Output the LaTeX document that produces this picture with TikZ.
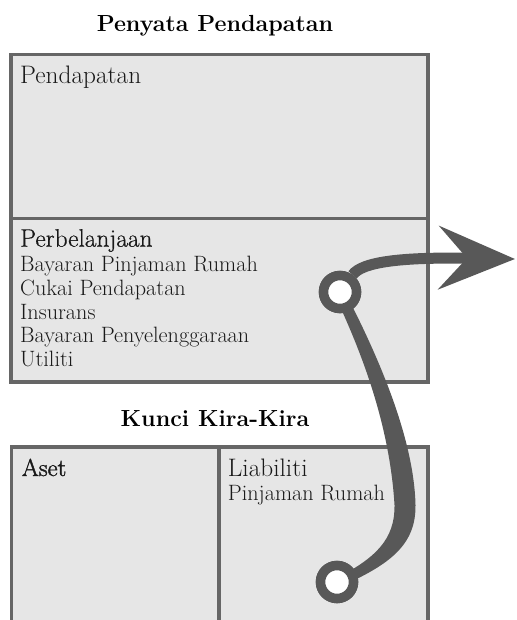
\documentclass[tikz,border=0pt]{standalone}
\usepackage{fontspec}
\newfontfamily\semibold{Latin Modern Roman}[FakeBold=1.6]
\newfontfamily\medium{Latin Modern Roman}[FakeBold=0.6]
\usetikzlibrary{arrows.meta}
\definecolor{myline}{HTML}{666666}
\definecolor{mypaper}{HTML}{E6E6E6}
\definecolor{mystroke}{HTML}{585858}
\colorlet{myink}{black!90}

\begin{document}
\begin{tikzpicture}[x=1pt, y=-1pt,
  title/.style={font=\bfseries\fontsize{23.3}{26}\selectfont, text=black, anchor=base, inner sep=0pt},
  head/.style ={font=\fontsize{25.3}{28}\selectfont, text=myink, anchor=base west, inner sep=0pt},
  item/.style ={font=\fontsize{22.2}{24}\selectfont, text=myink, anchor=base west, inner sep=0pt},
  box/.style  ={draw=myline, fill=mypaper, line width=3.5pt, rectangle, inner sep=0pt,
                anchor=north west},
  ring/.style ={circle, draw=mystroke, line width=9.5pt, fill=white, minimum size=33pt, inner sep=0pt},
  flow/.style ={draw=mystroke, line width=11pt,
                -{Stealth[length=76pt, width=63pt, inset=28pt]}},
]
\useasboundingbox (0,0) rectangle (516,620);
\clip (0,0) rectangle (516,620);

% ---------------------------------------------- income statement
\node[title] (inctitle) at (215,31.7) {Penyata Pendapatan};
\node[box, minimum width=417pt, minimum height=163.5pt] (incbox) at (9,53) {};
\node[box, minimum width=417pt, minimum height=163.5pt] (expbox) at (9,216.5) {};
\node[head] (inc) at (20,83.3) {Pendapatan};
\node[head, font=\medium\fontsize{25.3}{28}\selectfont] (exp) at (20,246.7) {Perbelanjaan};
\foreach \t [count=\i] in {Bayaran Pinjaman Rumah, Cukai Pendapatan, Insurans,
                           Bayaran Penyelenggaraan, Utiliti}
  \node[item] (exp\i) at (20,{271.7+23.75*(\i-1)}) {\t};

% ---------------------------------------------- balance sheet
\node[title] (baltitle) at (215,426) {Kunci Kira-Kira};
\node[box, minimum width=207.5pt, minimum height=260pt] (assetbox) at (9.5,445) {};
\node[box, minimum width=209pt, minimum height=260pt] (liabbox) at (217,445) {};
\node[head, font=\semibold\fontsize{24.5}{28}\selectfont] (asset) at (21.7,476) {Aset};
\node[head] (liab) at (227.7,476) {Liabiliti};
\node[item] (loan) at (227.7,500) {Pinjaman Rumah};

% ---------------------------------------------- the loan feeds the payment
\coordinate (outtip) at (515,259);
\node[ring] (expdot) at (340,292) {};
\node[ring] (liabdot) at (337,582) {};
% brush stroke, thick in the middle, thin at both rings
\fill[mystroke] (337,300) .. controls (365,360) and (390,430) .. (394.5,505)
  .. controls (395,540) and (375,558) .. (337,578)
  -- (337,588) .. controls (390,565) and (416,545) .. (415.5,505)
  .. controls (414,440) and (380,360) .. (347,296) -- cycle;
\node[ring] at (expdot) {};
\node[ring] at (liabdot) {};
\draw[flow] (expdot) .. controls (362,262) and (400,257) .. (outtip);
\end{tikzpicture}
\end{document}
